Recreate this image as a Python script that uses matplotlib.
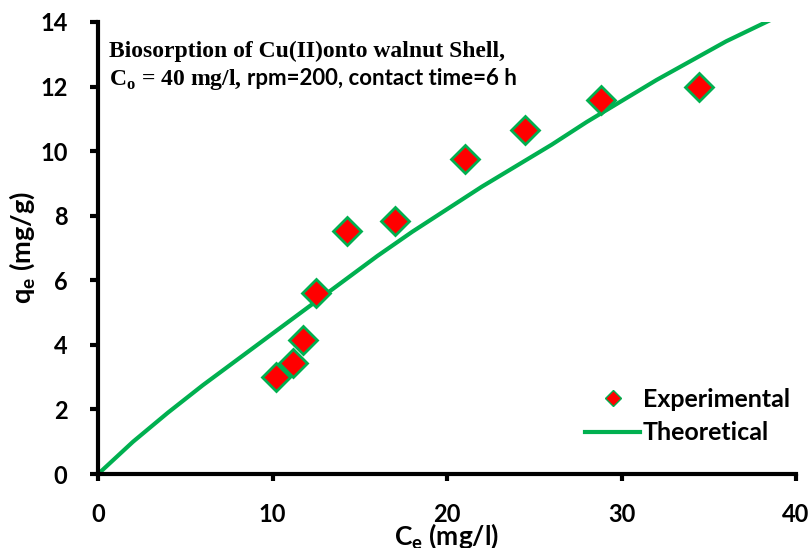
import numpy as np
import matplotlib.pyplot as plt

# Experimental equilibrium data
ce_exp = [10.2, 11.15, 11.75, 12.5, 14.25, 17.0, 21.0, 24.45, 28.85, 34.45]
qe_exp = [3.0, 3.45, 4.15, 5.62, 7.52, 7.85, 9.74, 10.65, 11.57, 11.97]

# Theoretical curve
ce_th = [0, 2, 4, 6, 8, 10, 12, 14, 16, 18, 20, 22, 24, 26, 28, 30, 32, 34, 36, 38.5]
qe_th = [0, 1.0, 1.9, 2.75, 3.55, 4.35, 5.15, 5.95, 6.75, 7.5, 8.2, 8.9, 9.55,
         10.2, 10.9, 11.55, 12.2, 12.8, 13.4, 14.05]

x_ticks = [0, 10, 20, 30, 40]
y_ticks = [0, 2, 4, 6, 8, 10, 12, 14]

sans = 'Lato'
serif = 'Liberation Serif'
green = '#00B050'

fig = plt.figure(figsize=(8.11, 5.48), dpi=100)
ax = fig.add_axes([0.121, 0.135, 0.8605, 0.825])

ax.plot(ce_th, qe_th, color=green, lw=3, label='Theoretical', zorder=2)
ax.plot(ce_exp, qe_exp, ls='none', marker='D', ms=14, mfc='red', mec=green,
        mew=2, label='Experimental', zorder=3)

ax.set_xlim(0, 40)
ax.set_ylim(0, 14)
ax.set_xticks(x_ticks)
ax.set_yticks(y_ticks)
for s in ['top', 'right']:
    ax.spines[s].set_visible(False)
for s in ['left', 'bottom']:
    ax.spines[s].set_linewidth(3)
ax.tick_params(axis='x', length=5, width=3, pad=16)
ax.tick_params(axis='y', length=6, width=3, pad=16)
for lab in ax.get_xticklabels() + ax.get_yticklabels():
    lab.set_fontfamily(sans)
    lab.set_fontweight('bold')
    lab.set_fontsize(17)

ax.set_xlabel('C$_\\mathregular{e}$ (mg/l)', fontfamily=sans, fontweight='bold',
              fontsize=19)
ax.xaxis.set_label_coords(0.5, -0.103)
ax.set_ylabel('q$_\\mathregular{e}$ (mg/g)', fontfamily=sans, fontweight='bold',
              fontsize=19.5)
ax.yaxis.set_label_coords(-0.087, 0.5)

# legend, in the order shown
h, l = ax.get_legend_handles_labels()
leg = ax.legend(h[::-1], l[::-1], loc='center left',
                bbox_to_anchor=(585 / 811, 1 - 416 / 548), bbox_transform=fig.transFigure,
                frameon=False, borderpad=0, borderaxespad=0,
                handlelength=2.2, handletextpad=0.12, labelspacing=0.42,
                prop={'family': sans, 'weight': 'bold', 'size': 18})
leg.legend_handles[0].set_markersize(8)
leg.legend_handles[0].set_markeredgewidth(1)

# annotation
ax.text(0.015, 0.9226, 'Biosorption of Cu(II)onto walnut Shell,', transform=ax.transAxes,
        fontfamily=serif, fontweight='bold', fontsize=17, va='baseline')
t2 = ax.text(0.015, 0.861, 'C$_\\mathregular{o}$ = 40 mg/l,', transform=ax.transAxes,
             fontfamily=serif, fontweight='bold', fontsize=17, va='baseline')
bb = t2.get_window_extent(fig.canvas.get_renderer())
x_next = ax.transAxes.inverted().transform((bb.x1 + 6, 0))[0]
ax.text(x_next, 0.861, 'rpm=200, contact time=6 h', transform=ax.transAxes,
        fontfamily=sans, fontweight='bold', fontsize=16, va='baseline')

plt.savefig('out.png', dpi=100)
